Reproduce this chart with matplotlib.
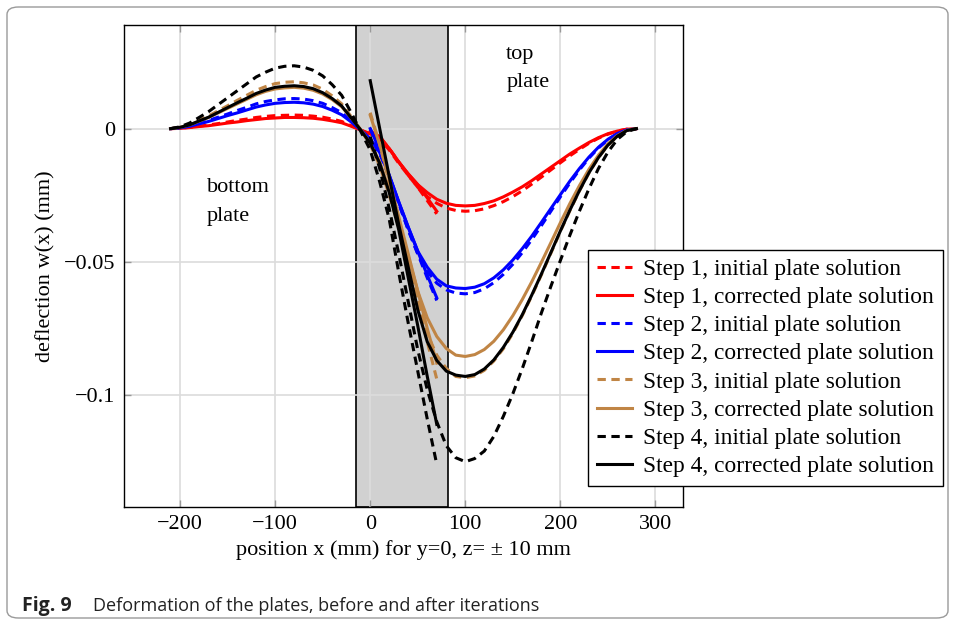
import matplotlib
matplotlib.use("Agg")
import matplotlib.pyplot as plt
from matplotlib.patches import FancyBboxPatch

# positions along the plates (mm)
x_bottom = [-210, -200, -190, -180, -170, -160, -150, -140, -130, -120, -110, -100, -90,
            -80, -70, -60, -50, -40, -30, -20, -10, 0, 10, 20, 30, 40, 50, 60, 70]
x_top = [0, 10, 20, 30, 40, 50, 60, 70, 80, 90, 100, 110, 120, 130, 140, 150,
         160, 170, 180, 190, 200, 210, 220, 230, 240, 250, 260, 270, 280]

# deflection (mm), bottom plate
s1_init_bot = [0, 0.0002, 0.0005, 0.0009, 0.0014, 0.0019, 0.0025, 0.0031, 0.0036, 0.0042, 0.0046,
               0.0049, 0.0050, 0.0051, 0.0050, 0.0047, 0.0043, 0.0036, 0.0027,
               0.0011, -0.0005, -0.002, -0.004, -0.008, -0.013, -0.0175, -0.022, -0.027, -0.032]
s1_corr_bot = [0, 0.0001, 0.0004, 0.0008, 0.0011, 0.0016, 0.0021, 0.0025, 0.0030, 0.0034, 0.0038,
               0.0040, 0.0042, 0.0042, 0.0041, 0.0039, 0.0035, 0.0029, 0.0022,
               0.0009, -0.0005, -0.002, -0.0037, -0.0075, -0.0125, -0.017, -0.021, -0.026, -0.031]
s2_init_bot = [0, 0.0003, 0.0010, 0.0020, 0.0031, 0.0043, 0.0055, 0.0068, 0.0080, 0.0093, 0.0102,
               0.0108, 0.0112, 0.0113, 0.0111, 0.0105, 0.0095, 0.0079, 0.0060,
               0.0028, -0.0005, -0.0042, -0.0095, -0.018, -0.028, -0.038, -0.047, -0.056, -0.0645]
s2_corr_bot = [0, 0.0003, 0.0009, 0.0018, 0.0027, 0.0038, 0.0049, 0.0059, 0.0070, 0.0081, 0.0089,
               0.0095, 0.0098, 0.0099, 0.0097, 0.0092, 0.0083, 0.0069, 0.0052,
               0.0025, -0.0005, -0.0038, -0.009, -0.0175, -0.0275, -0.037, -0.046, -0.055, -0.0635]
s3_init_bot = [0, 0.0005, 0.0016, 0.0032, 0.0048, 0.0067, 0.0086, 0.0106, 0.0125, 0.0144, 0.0158,
               0.0169, 0.0174, 0.0176, 0.0172, 0.0164, 0.0148, 0.0123, 0.0093,
               0.0045, -0.0005, -0.006, -0.014, -0.025, -0.037, -0.051, -0.065, -0.080, -0.094]
s3_corr_bot = [0, 0.0005, 0.0014, 0.0028, 0.0042, 0.0059, 0.0076, 0.0093, 0.0110, 0.0127, 0.0140,
               0.0149, 0.0153, 0.0155, 0.0152, 0.0144, 0.0130, 0.0109, 0.0082,
               0.004, -0.0003, -0.0055, -0.0125, -0.023, -0.035, -0.048, -0.061, -0.075, -0.088]
s4_init_bot = [0, 0.0007, 0.0021, 0.0042, 0.0064, 0.0090, 0.0116, 0.0142, 0.0168, 0.0194, 0.0212,
               0.0227, 0.0234, 0.0236, 0.0231, 0.0219, 0.0198, 0.0165, 0.0125,
               0.006, -0.001, -0.008, -0.020, -0.034, -0.054, -0.073, -0.091, -0.109, -0.126]
s4_corr_bot = [0, 0.0005, 0.0014, 0.0029, 0.0043, 0.0061, 0.0079, 0.0097, 0.0114, 0.0132, 0.0145,
               0.0155, 0.0159, 0.0161, 0.0158, 0.0150, 0.0135, 0.0113, 0.0085,
               0.004, -0.0005, -0.0055, -0.013, -0.024, -0.038, -0.056, -0.074, -0.093, -0.111]

# deflection (mm), top plate
s1_init_top = [-0.001, -0.003, -0.0075, -0.0125, -0.0175, -0.022, -0.0255, -0.028, -0.0298, -0.0307,
               -0.031, -0.0308, -0.0301, -0.0289, -0.0274, -0.0255, -0.0233, -0.0208, -0.0182, -0.0155,
               -0.0128, -0.0102, -0.0078, -0.0055, -0.0036, -0.0021, -0.0009, -0.0002, 0]
s1_corr_top = [-0.001, -0.003, -0.0075, -0.0125, -0.017, -0.021, -0.024, -0.0265, -0.028, -0.0288,
               -0.029, -0.0288, -0.0281, -0.0271, -0.0256, -0.0238, -0.0218, -0.0195, -0.0170, -0.0145,
               -0.0120, -0.0095, -0.0073, -0.0052, -0.0034, -0.0019, -0.0009, -0.0002, 0]
s2_init_top = [0.0, -0.0085, -0.018, -0.028, -0.038, -0.047, -0.0535, -0.058, -0.0605, -0.0617,
               -0.062, -0.0615, -0.0601, -0.0578, -0.0547, -0.0509, -0.0465, -0.0416, -0.0364, -0.0310,
               -0.0256, -0.0204, -0.0155, -0.0111, -0.0073, -0.0042, -0.0019, -0.0005, 0]
s2_corr_top = [0.0, -0.008, -0.0175, -0.0275, -0.037, -0.046, -0.052, -0.0565, -0.059, -0.0598,
               -0.060, -0.0595, -0.0582, -0.0560, -0.0530, -0.0493, -0.0450, -0.0403, -0.0352, -0.0300,
               -0.0248, -0.0197, -0.0150, -0.0107, -0.0070, -0.0040, -0.0018, -0.0005, 0]
s3_init_top = [0.006, -0.006, -0.020, -0.035, -0.050, -0.065, -0.077, -0.085, -0.090, -0.093,
               -0.0935, -0.0928, -0.0907, -0.0872, -0.0826, -0.0768, -0.0701, -0.0627, -0.0549, -0.0468,
               -0.0386, -0.0308, -0.0234, -0.0167, -0.0109, -0.0063, -0.0028, -0.0007, 0]
s3_corr_top = [0.005, -0.006, -0.019, -0.033, -0.047, -0.061, -0.071, -0.078, -0.0825, -0.085,
               -0.0855, -0.0848, -0.0829, -0.0798, -0.0755, -0.0702, -0.0641, -0.0574, -0.0502, -0.0428,
               -0.0353, -0.0281, -0.0214, -0.0153, -0.0100, -0.0057, -0.0026, -0.0006, 0]
s4_init_top = [-0.003, -0.015, -0.030, -0.047, -0.065, -0.083, -0.098, -0.110, -0.119, -0.1235,
               -0.125, -0.1238, -0.121, -0.1155, -0.108, -0.0995, -0.090, -0.0798, -0.0692, -0.0592,
               -0.0495, -0.0400, -0.0310, -0.0226, -0.015, -0.0088, -0.004, -0.0011, 0]
s4_corr_top = [0.018, 0.0, -0.018, -0.036, -0.052, -0.068, -0.080, -0.087, -0.091, -0.0925,
               -0.093, -0.0923, -0.0902, -0.0868, -0.0821, -0.0764, -0.0698, -0.0624, -0.0546, -0.0465,
               -0.0384, -0.0306, -0.0233, -0.0166, -0.0109, -0.0062, -0.0028, -0.0007, 0]

overlap = (-15, 82)  # bonded zone (mm)

labels = ["Step 1, initial plate solution", "Step 1, corrected plate solution",
          "Step 2, initial plate solution", "Step 2, corrected plate solution",
          "Step 3, initial plate solution", "Step 3, corrected plate solution",
          "Step 4, initial plate solution", "Step 4, corrected plate solution"]

bottoms = [s1_init_bot, s1_corr_bot, s2_init_bot, s2_corr_bot,
           s3_init_bot, s3_corr_bot, s4_init_bot, s4_corr_bot]
tops = [s1_init_top, s1_corr_top, s2_init_top, s2_corr_top,
        s3_init_top, s3_corr_top, s4_init_top, s4_corr_top]
colors = ["#ff0000", "#ff0000", "#0000ff", "#0000ff",
          "#c08545", "#c08545", "#000000", "#000000"]

plt.rcParams["font.family"] = ["Liberation Serif", "DejaVu Serif"]
plt.rcParams["lines.scale_dashes"] = False

fig = plt.figure(figsize=(9.55, 6.24), dpi=100)
ax = fig.add_axes([124 / 955, 1 - 507 / 624, (683 - 124) / 955, (507 - 25) / 624])

ax.axvspan(overlap[0], overlap[1], facecolor="#d1d1d1", edgecolor="black", linewidth=1.2, zorder=0.2)

handles = []
for i in range(len(labels)):
    dashed = i % 2 == 0
    ln, = ax.plot(x_bottom, bottoms[i], color=colors[i], linewidth=2.2, label=labels[i])
    ln2, = ax.plot(x_top, tops[i], color=colors[i], linewidth=2.2)
    if dashed:
        ln.set_dashes((6, 4))
        ln2.set_dashes((6, 4))
    handles.append(ln)

ax.set_xlim(-259, 329)
ax.set_ylim(-0.142, 0.0389)
ax.set_xticks([-200, -100, 0, 100, 200, 300])
ax.set_xticklabels(["\u2212200", "\u2212100", "0", "100", "200", "300"])
ax.set_yticks([0, -0.05, -0.1])
ax.set_yticklabels(["0", "\u22120.05", "\u22120.1"])
ax.tick_params(direction="in", length=5, width=1, color="#999999", labelsize=16,
               top=True, right=True, pad=6)
ax.grid(True, color="#dcdcdc", linewidth=1.2)
ax.set_axisbelow(True)
for sp in ax.spines.values():
    sp.set_linewidth(1.0)

ax.set_xlabel("position x (mm) for y=0, z= \u00b1 10 mm", fontsize=16, labelpad=4)
ax.set_ylabel("deflection w(x) (mm)", fontsize=16, labelpad=6)

ax.text(143, 0.0277, "top", fontsize=16, va="center", ha="left")
ax.text(143, 0.0172, "plate", fontsize=16, va="center", ha="left")
ax.text(-172, -0.0222, "bottom", fontsize=16, va="center", ha="left")
ax.text(-172, -0.0328, "plate", fontsize=16, va="center", ha="left")

leg = ax.legend(handles=handles, loc="upper left", bbox_to_anchor=(588 / 955, 1 - 250 / 624),
                bbox_transform=fig.transFigure, borderaxespad=0, fontsize=16.8,
                fancybox=False, framealpha=1, edgecolor="black", handlelength=1.5,
                handletextpad=0.47, borderpad=0.38, labelspacing=0.29)
leg.get_frame().set_linewidth(1.0)

# outer frame and caption
frame = FancyBboxPatch((7 / 955, 6 / 624), 941 / 955, 611 / 624, boxstyle="round,pad=0,rounding_size=0.012",
                       transform=fig.transFigure, fill=False, edgecolor="#9a9a9a", linewidth=1.0)
fig.patches.append(frame)
fig.text(22 / 955, 1 - 606 / 624, "Fig. 9", fontsize=14, fontweight="bold", va="center",
         family=["Open Sans", "DejaVu Sans"], color="#222222")
fig.text(93 / 955, 1 - 606 / 624, "Deformation of the plates, before and after iterations", fontsize=13,
         va="center", family=["Open Sans", "DejaVu Sans"], color="#222222")

fig.savefig("out.png", dpi=100)
